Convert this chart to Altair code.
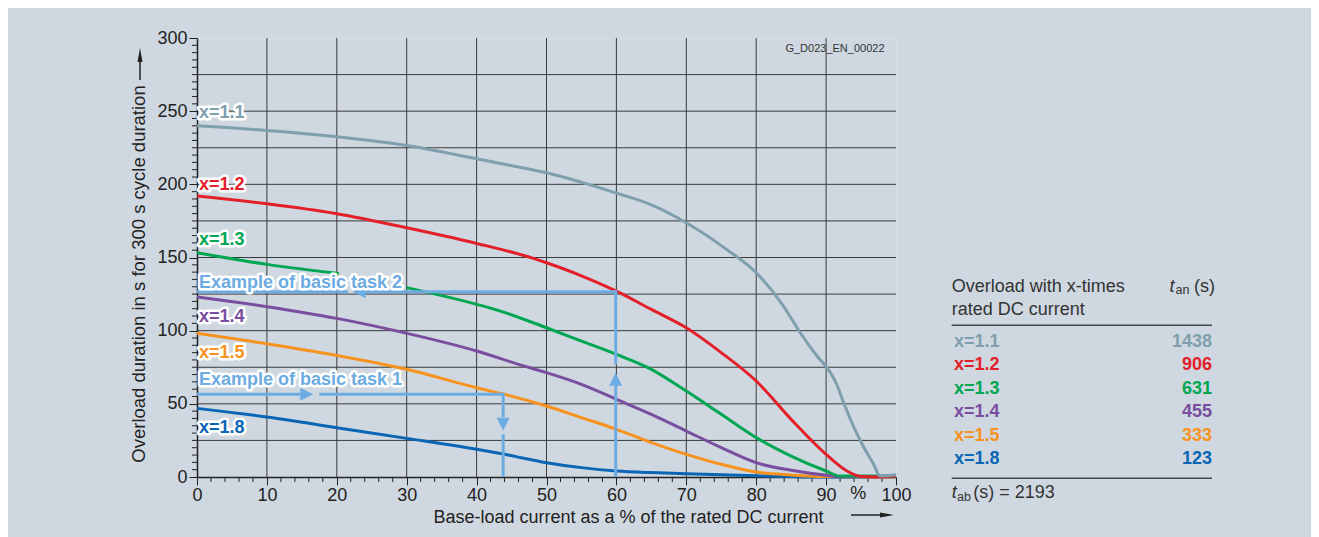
import altair as alt
import pandas as pd

FONT = "Liberation Sans"
BG = "#cfd8e0"
INK = "#222222"
GRID = "#3a3a3a"
ARROW = "#6cace2"

# ---------------- data ----------------
x_11 = [0, 10, 20, 30, 40, 46, 50, 56, 60, 65, 70, 75.8, 80, 83.9, 86.3, 88.7, 90.6, 91.5, 92.5, 93.9, 95.3, 96.8, 97.7, 100]
y_11 = [240, 236.8, 232.5, 226.6, 217.5, 211.8, 207.9, 200, 194, 186, 173.8, 155.4, 139.6, 116.8, 98.6, 82.7, 71.5, 63.5, 50.8, 34.8, 21.2, 8.7, 0.7, 1.5]

x_12 = [0, 10, 20, 30, 40, 48, 50, 55, 60, 65, 70, 75, 80, 85, 90, 93, 95, 97, 100]
y_12 = [192, 186.7, 179.9, 170.3, 159.6, 149.6, 146.4, 137.5, 127, 114.5, 102, 85, 65.6, 39.4, 15.5, 4.1, 0.3, 0, 0.8]

x_13a = [0, 10, 20.3]
y_13a = [153.3, 145.3, 139]
x_13b = [30, 40, 43.4, 50, 55, 60, 65, 70, 75, 80, 85, 90, 92, 100]
y_13b = [129.4, 118, 113.4, 102, 92.9, 83.8, 73.6, 58.7, 42.8, 26.9, 14.3, 4.1, 0.6, 0.6]

x_14 = [0, 10, 20, 30, 40, 46, 50, 55, 60, 65, 70, 75, 80, 85, 90, 92, 100]
y_14 = [123, 116.4, 108.4, 98.2, 86.1, 77, 71.3, 63.3, 53.1, 42.8, 31.4, 20.1, 9.8, 4.6, 1.2, 0.3, 0.3]

x_15 = [0, 10, 20, 30, 40, 44, 50, 55, 60, 65, 70, 75, 80, 85, 90, 100]
y_15 = [98.2, 91.1, 83.1, 73.6, 61, 56.5, 48.5, 40.6, 32.6, 23.5, 15.5, 8.7, 3.4, 1.4, 0.3, 0]

x_18 = [0, 10, 20, 30, 40, 44, 50, 55, 60, 65, 70, 75, 80, 85, 90, 100]
y_18 = [46.9, 41, 33.7, 26.4, 18.9, 15.5, 9.8, 6.4, 4.1, 3, 2.3, 1.5, 0.8, 0.3, 0, 0]

series_names = ["x=1.1", "x=1.2", "x=1.3", "x=1.4", "x=1.5", "x=1.8"]
series_colors = ["#809fae", "#e3202a", "#00a651", "#7a4e9f", "#f7921e", "#0b65b5"]
t_an = [1438, 906, 631, 455, 333, 123]
t_ab = 2193
label_y = [249, 199.5, 161.9, 109.3, 85, 33.7]

task_labels = ["Example of basic task 1", "Example of basic task 2"]
task_label_y = [66, 132.8]
task_base = [43.8, 59.9]      # base-load current %
task_dur = [56.5, 126.6]      # overload duration s

x_ticks_major = list(range(0, 101, 10))
y_ticks_major = list(range(0, 301, 50))
x_ticks_minor = [v for v in range(0, 101, 2) if v % 10]
y_ticks_minor = [v for v in range(0, 301, 5) if v % 50]
x_grid = list(range(10, 100, 10))
y_grid = list(range(25, 300, 25))

# ---------------- geometry ----------------
W, H = 699, 439
PAD_L, PAD_T = 189, 30
TOTAL_W, TOTAL_H = 1303, 529


def px(page_x):
    return page_x - (8 + PAD_L)


def py(page_y):
    return page_y - (8 + PAD_T)


xscale = alt.Scale(domain=[0, 100], nice=False, zero=False)
yscale = alt.Scale(domain=[0, 300], nice=False)
axis_common = dict(grid=False, tickSize=8, tickColor=INK, tickWidth=1, domainColor=INK,
                   domainWidth=1.5, labelFontSize=18, labelColor=INK, labelFont=FONT,
                   title=None, labelFlush=False, labelOverlap=False)
X = alt.X("x:Q", scale=xscale, axis=alt.Axis(values=x_ticks_major, labelPadding=1, **axis_common))
Y = alt.Y("y:Q", scale=yscale, axis=alt.Axis(values=y_ticks_major, labelPadding=2, **axis_common))

layers = []

# grid
layers.append(alt.Chart(pd.DataFrame({"x": x_grid})).mark_rule(color=GRID, strokeWidth=1).encode(
    x=X, y=alt.value(0), y2=alt.value(H)))
layers.append(alt.Chart(pd.DataFrame({"y": y_grid})).mark_rule(color=GRID, strokeWidth=1).encode(
    y=Y, x=alt.value(0), x2=alt.value(W)))
# minor ticks
layers.append(alt.Chart(pd.DataFrame({"x": x_ticks_minor})).mark_rule(color=INK, strokeWidth=1).encode(
    x=X, y=alt.value(H), y2=alt.value(H + 5)))
layers.append(alt.Chart(pd.DataFrame({"y": y_ticks_minor})).mark_rule(color=INK, strokeWidth=1).encode(
    y=Y, x=alt.value(-5), x2=alt.value(0)))

# curves (drawn from bottom series to top series)
segments = [
    ("x=1.8", x_18, y_18), ("x=1.5", x_15, y_15), ("x=1.4", x_14, y_14),
    ("x=1.3", x_13a, y_13a), ("x=1.3", x_13b, y_13b), ("x=1.2", x_12, y_12),
    ("x=1.1", x_11, y_11),
]
for name, xs, ys in segments:
    col = series_colors[series_names.index(name)]
    df = pd.DataFrame({"x": xs, "y": ys, "o": list(range(len(xs)))})
    layers.append(alt.Chart(df).mark_line(color=col, strokeWidth=3, interpolate="monotone",
                                          strokeCap="butt").encode(x=X, y=Y, order="o:Q"))

# example arrows
b1, d1 = task_base[0], task_dur[0]
b2, d2 = task_base[1], task_dur[1]
seg = pd.DataFrame([
    dict(x=0, y=d1, x2=14.8, y2=d1), dict(x=17.5, y=d1, x2=b1, y2=d1),
    dict(x=b1, y=d1 + 1, x2=b1, y2=40.8), dict(x=b1, y=29.2, x2=b1, y2=0),
    dict(x=b2, y=0, x2=b2, y2=62.2), dict(x=b2, y=76.9, x2=b2, y2=d2 + 1),
    dict(x=b2 + 0.2, y=d2, x2=24.1, y2=d2), dict(x=21.6, y=d2, x2=0, y2=d2),
])
layers.append(alt.Chart(seg).mark_rule(color=ARROW, strokeWidth=3).encode(
    x=X, y=Y, x2=alt.X2("x2:Q"), y2=alt.Y2("y2:Q")))
heads = pd.DataFrame([
    dict(x=15.7, y=d1, s="M-1,-1L1,0L-1,1Z"),
    dict(x=b1, y=36.1, s="M-1,-1L0,1L1,-1Z"),
    dict(x=23.2, y=d2, s="M1,-1L-1,0L1,1Z"),
    dict(x=b2, y=66.8, s="M-1,1L0,-1L1,1Z"),
])
layers.append(alt.Chart(heads).mark_point(filled=True, size=169, opacity=1, color=ARROW,
                                          strokeWidth=0).encode(
    x=X, y=Y, shape=alt.Shape("s:N", scale=None)))

# curve labels
lab = pd.DataFrame({
    "x": [0] * 8,
    "y": label_y + task_label_y,
    "t": series_names + task_labels,
    "c": series_colors + [ARROW, ARROW],
})
layers.append(alt.Chart(lab).mark_text(align="left", baseline="middle", dx=2, fontSize=18,
                                       fontWeight="bold", font=FONT, stroke="white",
                                       strokeWidth=5, strokeJoin="round", fill="white").encode(
    x=X, y=Y, text="t:N"))
layers.append(alt.Chart(lab).mark_text(align="left", baseline="middle", dx=2, fontSize=18,
                                       fontWeight="bold", font=FONT).encode(
    x=X, y=Y, text="t:N", color=alt.Color("c:N", scale=None)))

# "%" on the x axis
layers.append(alt.Chart(pd.DataFrame({"x": [94.6]})).mark_text(
    text="%", fontSize=18, font=FONT, color=INK, baseline="middle").encode(x=X, y=alt.value(py(493.5))))

# chart id
layers.append(alt.Chart(pd.DataFrame({"a": [0]})).mark_text(
    text="G_D023_EN_00022", fontSize=11, font=FONT, color="#333333", align="right",
    baseline="middle").encode(x=alt.value(px(884.5)), y=alt.value(py(49.3))))

# axis titles + arrows
layers.append(alt.Chart(pd.DataFrame({"a": [0]})).mark_text(
    text="Base-load current as a % of the rated DC current", fontSize=18, font=FONT, color=INK,
    align="center", baseline="middle").encode(x=alt.value(px(628.5)), y=alt.value(py(518))))
layers.append(alt.Chart(pd.DataFrame({"a": [0]})).mark_text(
    text="Overload duration in s for 300 s cycle duration", fontSize=18.5, font=FONT, color=INK,
    align="center", baseline="middle", angle=270).encode(x=alt.value(px(139)), y=alt.value(py(274))))
layers.append(alt.Chart(pd.DataFrame({"a": [0]})).mark_rule(color=INK, strokeWidth=1.5).encode(
    x=alt.value(px(851)), x2=alt.value(px(881)), y=alt.value(py(515)), y2=alt.value(py(515))))
layers.append(alt.Chart(pd.DataFrame({"a": [0]})).mark_point(
    shape="M-1,-0.36L1,0L-1,0.36Z", size=196, filled=True, opacity=1, color=INK, strokeWidth=0).encode(
    x=alt.value(px(887)), y=alt.value(py(515))))
layers.append(alt.Chart(pd.DataFrame({"a": [0]})).mark_rule(color=INK, strokeWidth=1.5).encode(
    x=alt.value(px(140)), x2=alt.value(px(140)), y=alt.value(py(80)), y2=alt.value(py(60))))
layers.append(alt.Chart(pd.DataFrame({"a": [0]})).mark_point(
    shape="M-0.36,1L0,-1L0.36,1Z", size=196, filled=True, opacity=1, color=INK, strokeWidth=0).encode(
    x=alt.value(px(140)), y=alt.value(py(55))))

# ---------------- table on the right ----------------
TX_L, TX_R = 951.7, 1212
def txt(text, x, y, **kw):
    params = dict(text=text, fontSize=18, font=FONT, color="#333333", baseline="middle", align="left")
    params.update(kw)
    return alt.Chart(pd.DataFrame({"a": [0]})).mark_text(**params).encode(
        x=alt.value(px(x)), y=alt.value(py(y)))

layers.append(txt("Overload with x-times", TX_L, 286.7))
layers.append(txt("rated DC current", TX_L, 310))
layers.append(txt("t", 1169.5, 286.7, fontStyle="italic"))
layers.append(txt("an", 1175.5, 290, fontSize=12.5))
layers.append(txt("(s)", 1215, 286.7, align="right"))
layers.append(txt("t", TX_L, 493.3, fontStyle="italic"))
layers.append(txt("ab", 957, 496.5, fontSize=12.5))
layers.append(txt("(s) = " + str(t_ab), 973.3, 493.3))

for yy in (325.3, 478.3):
    layers.append(alt.Chart(pd.DataFrame({"a": [0]})).mark_rule(color="#444444", strokeWidth=1.5).encode(
        x=alt.value(px(TX_L)), x2=alt.value(px(TX_R)), y=alt.value(py(yy)), y2=alt.value(py(yy))))

row_top, row_step = 341.7, 23.55
tab = pd.DataFrame({
    "name": series_names,
    "val": [str(v) for v in t_an],
    "c": series_colors,
    "px": [px(954)] * 6,
    "pr": [px(TX_R)] * 6,
    "py": [py(row_top + i * row_step) for i in range(6)],
})
layers.append(alt.Chart(tab).mark_text(align="left", baseline="middle", fontSize=18, fontWeight="bold",
                                       font=FONT).encode(
    x=alt.X("px:Q", scale=None), y=alt.Y("py:Q", scale=None), text="name:N",
    color=alt.Color("c:N", scale=None)))
layers.append(alt.Chart(tab).mark_text(align="right", baseline="middle", fontSize=18, fontWeight="bold",
                                       font=FONT).encode(
    x=alt.X("pr:Q", scale=None), y=alt.Y("py:Q", scale=None), text="val:N",
    color=alt.Color("c:N", scale=None)))

chart = alt.layer(*layers).properties(
    width=W, height=H,
    padding={"left": PAD_L, "top": PAD_T, "right": TOTAL_W - W - PAD_L, "bottom": TOTAL_H - H - PAD_T},
    autosize=alt.AutoSizeParams(type="none"),
    background=BG,
).configure_view(stroke="#707070", strokeWidth=2, fill="white").configure(font=FONT)

chart.save("out.html", embed_options={"renderer": "svg", "actions": False})
